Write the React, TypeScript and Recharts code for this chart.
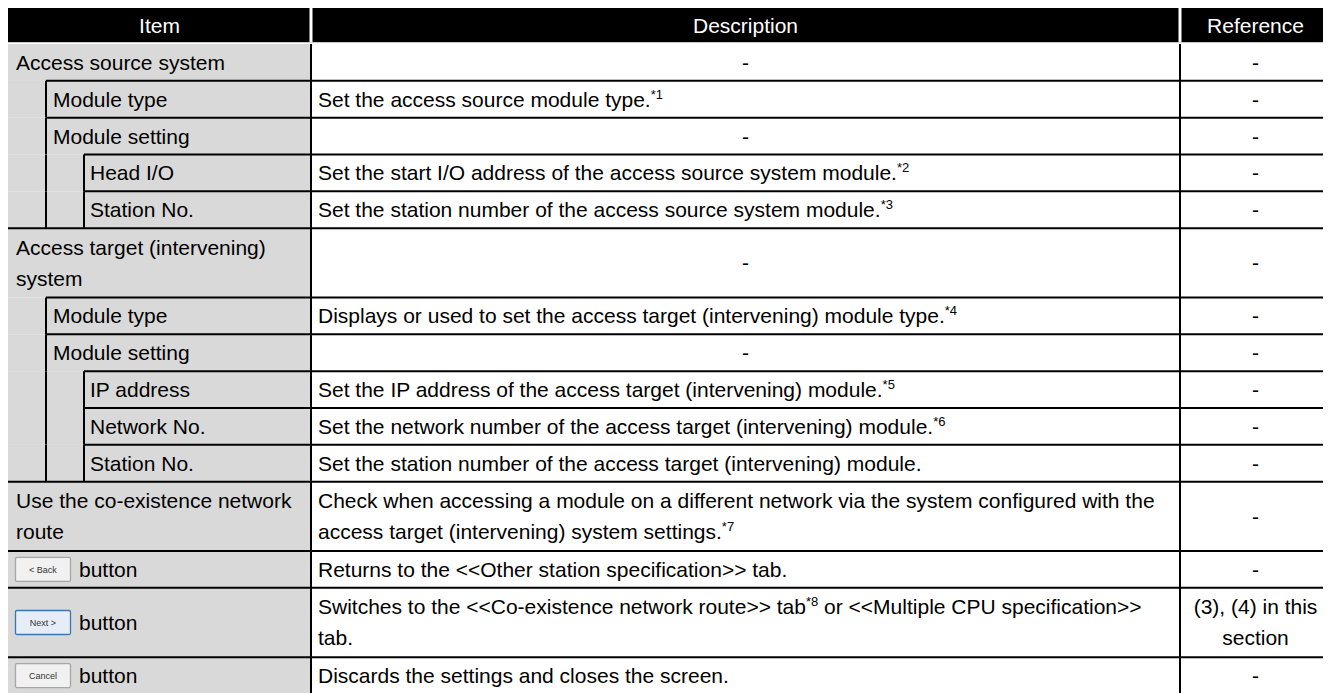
import React from "react";
import { BarChart, Bar, XAxis, YAxis } from "recharts";

// ---------- data ----------
const headerLabels = ["Item", "Description", "Reference"];

const itemLabels: string[][] = [
  ["Access source system"],
  ["Module type"],
  ["Module setting"],
  ["Head I/O"],
  ["Station No."],
  ["Access target (intervening)", "system"],
  ["Module type"],
  ["Module setting"],
  ["IP address"],
  ["Network No."],
  ["Station No."],
  ["Use the co-existence network", "route"],
  ["button"],
  ["button"],
  ["button"],
];

const itemLevels = [0, 1, 1, 2, 2, 0, 1, 1, 2, 2, 2, 0, 0, 0, 0];

const itemButtons = ["", "", "", "", "", "", "", "", "", "", "", "", "< Back", "Next >", "Cancel"];

// "^" wraps superscript footnote marks
const descriptions: string[][] = [
  ["-"],
  ["Set the access source module type.^*1"],
  ["-"],
  ["Set the start I/O address of the access source system module.^*2"],
  ["Set the station number of the access source system module.^*3"],
  ["-"],
  ["Displays or used to set the access target (intervening) module type.^*4"],
  ["-"],
  ["Set the IP address of the access target (intervening) module.^*5"],
  ["Set the network number of the access target (intervening) module.^*6"],
  ["Set the station number of the access target (intervening) module."],
  [
    "Check when accessing a module on a different network via the system configured with the",
    "access target (intervening) system settings.^*7",
  ],
  ["Returns to the <<Other station specification>> tab."],
  ["Switches to the <<Co-existence network route>> tab^*8^ or <<Multiple CPU specification>>", "tab."],
  ["Discards the settings and closes the screen."],
];

const references: string[][] = [
  ["-"], ["-"], ["-"], ["-"], ["-"], ["-"], ["-"], ["-"], ["-"], ["-"], ["-"], ["-"], ["-"],
  ["(3), (4) in this", "section"],
  ["-"],
];

// ---------- layout constants ----------
const CHART_W = 1323;
const CHART_H = 686;
const HEADER_WEIGHT = 0.978;
const DOUBLE_WEIGHT = 1.883;
const FONT = "'Liberation Sans', Arial, Helvetica, sans-serif";
const FS = 21;
const COL1 = 303; // Item | Description
const COL2 = 1172; // Description | Reference
const INDENT = [0, 38, 76];
const TEXT_X = [8, 45, 82];
const LINE_GAP = 31;

const rowCount = itemLabels.length;
const rowLines = itemLabels.map((_, i) =>
  Math.max(itemLabels[i].length, descriptions[i].length, references[i].length)
);
const rowKeys = itemLabels.map((_, i) => `r${i}`);
const tableRow: Record<string, any> = { cat: "table", h: HEADER_WEIGHT };
rowKeys.forEach((k, i) => {
  tableRow[k] = rowLines[i] === 1 ? 1 : DOUBLE_WEIGHT;
});
const tableData = [tableRow];
const totalWeight = HEADER_WEIGHT + rowKeys.reduce((s, k) => s + tableRow[k], 0);

function rich(line: string) {
  const parts = line.split("^");
  const out: React.ReactNode[] = [];
  let shifted = false;
  parts.forEach((p, i) => {
    if (p === "") return;
    if (i % 2 === 1) {
      out.push(
        <tspan key={i} fontSize={13} dy={-8}>
          {p}
        </tspan>
      );
      shifted = true;
    } else {
      out.push(
        <tspan key={i} dy={shifted ? 8 : 0}>
          {p}
        </tspan>
      );
      shifted = false;
    }
  });
  return out;
}

function baselines(top: number, h: number, n: number) {
  const c = top + h / 2 + 7.5;
  return Array.from({ length: n }, (_, i) => c + (i - (n - 1) / 2) * LINE_GAP);
}

function HeaderShape(props: any) {
  const { x, y, width, height } = props;
  const top = Math.min(y, y + height);
  const h = Math.abs(height);
  const bh = h - 1.8;
  const R = x + width;
  const cols = [
    [x, x + COL1],
    [x + COL1, x + COL2],
    [x + COL2, R],
  ];
  return (
    <g>
      <rect x={x} y={top} width={width} height={bh} fill="#000" />
      <line x1={x + COL1} x2={x + COL1} y1={top} y2={top + bh} stroke="#fff" strokeWidth={3} />
      <line x1={x + COL2} x2={x + COL2} y1={top} y2={top + bh} stroke="#fff" strokeWidth={3} />
      {headerLabels.map((t, i) => (
        <text
          key={t}
          x={(cols[i][0] + cols[i][1]) / 2}
          y={top + bh / 2 + 7.5}
          textAnchor="middle"
          fill="#fff"
          fontSize={FS}
          fontFamily={FONT}
        >
          {t}
        </text>
      ))}
    </g>
  );
}

function ButtonIcon({ x, cy, label }: { x: number; cy: number; label: string }) {
  const isNext = label.startsWith("Next");
  return (
    <g>
      <rect
        x={x + 7.5}
        y={cy - 12}
        width={55}
        height={24}
        rx={1.5}
        fill={isNext ? "#e6edf7" : "#f1f1f1"}
        stroke={isNext ? "#3b77b3" : "#a6a6a6"}
        strokeWidth={1.3}
      />
      <text
        x={x + 35}
        y={cy + 3.2}
        textAnchor="middle"
        fontSize={9}
        fill="#333"
        fontFamily={FONT}
      >
        {label}
      </text>
    </g>
  );
}

function RowShape(props: any) {
  const { x, y, width, height, idx } = props;
  const top = Math.min(y, y + height);
  const h = Math.abs(height);
  const bottom = top + h;
  const R = x + width;
  const lvl = itemLevels[idx];
  const c1 = x + COL1;
  const c2 = x + COL2;
  const sw = 2;
  const bl = baselines(top, h, rowLines[idx]);
  const itemBl = baselines(top, h, itemLabels[idx].length);
  const descBl = baselines(top, h, descriptions[idx].length);
  const refBl = baselines(top, h, references[idx].length);
  const btn = itemButtons[idx];
  const cy = top + h / 2;
  const textStyle = { whiteSpace: "pre" as const };
  return (
    <g>
      <rect x={x} y={top} width={COL1} height={h} fill="#d9d9d9" />
      <rect x={c1} y={top} width={R - c1} height={h} fill="#fff" />
      {idx > 0 && (
        <line x1={x + INDENT[lvl]} x2={R} y1={top} y2={top} stroke="#000" strokeWidth={sw} />
      )}
      {idx === rowCount - 1 && <line x1={x} x2={R} y1={bottom} y2={bottom} stroke="#000" strokeWidth={sw} />}
      {lvl >= 1 && <line x1={x + INDENT[1]} x2={x + INDENT[1]} y1={top} y2={bottom} stroke="#000" strokeWidth={sw} />}
      {lvl >= 2 && <line x1={x + INDENT[2]} x2={x + INDENT[2]} y1={top} y2={bottom} stroke="#000" strokeWidth={sw} />}
      <line x1={c1} x2={c1} y1={top} y2={bottom} stroke="#000" strokeWidth={sw} />
      <line x1={c2} x2={c2} y1={top} y2={bottom} stroke="#000" strokeWidth={sw} />
      {btn ? (
        <g>
          <ButtonIcon x={x} cy={cy} label={btn} />
          <text x={x + 71} y={cy + 7.5} fontSize={FS} fontFamily={FONT} fill="#000">
            {itemLabels[idx][0]}
          </text>
        </g>
      ) : (
        itemLabels[idx].map((t, i) => (
          <text key={i} x={x + TEXT_X[lvl]} y={itemBl[i]} fontSize={FS} fontFamily={FONT} fill="#000">
            {t}
          </text>
        ))
      )}
      {descriptions[idx].map((t, i) =>
        t === "-" ? (
          <text key={i} x={(c1 + c2) / 2} y={descBl[i]} textAnchor="middle" fontSize={FS} fontFamily={FONT} fill="#000">
            -
          </text>
        ) : (
          <text key={i} x={c1 + 7} y={descBl[i]} fontSize={FS} fontFamily={FONT} fill="#000" style={textStyle}>
            {rich(t)}
          </text>
        )
      )}
      {references[idx].map((t, i) => (
        <text key={i} x={(c2 + R) / 2} y={refBl[i]} textAnchor="middle" fontSize={FS} fontFamily={FONT} fill="#000">
          {t}
        </text>
      ))}
      {bl.length === 0 && null}
    </g>
  );
}

export default function App() {
  return (
    <div style={{ width: CHART_W, height: CHART_H }}>
      <style>{"body{overflow:hidden}"}</style>
      <BarChart
        width={CHART_W}
        height={CHART_H}
        data={tableData}
        margin={{ top: 0, right: 0, bottom: 0, left: 0 }}
        barCategoryGap={0}
        barGap={0}
      >
        <XAxis dataKey="cat" hide />
        <YAxis type="number" domain={[0, totalWeight]} reversed hide allowDataOverflow />
        <Bar
          dataKey="h"
          stackId="t"
          isAnimationActive={false}
          shape={(p: any) => <HeaderShape {...p} />}
        />
        {rowKeys.map((k, i) => (
          <Bar
            key={k}
            dataKey={k}
            stackId="t"
            isAnimationActive={false}
            shape={(p: any) => <RowShape {...p} idx={i} />}
          />
        ))}
      </BarChart>
    </div>
  );
}
